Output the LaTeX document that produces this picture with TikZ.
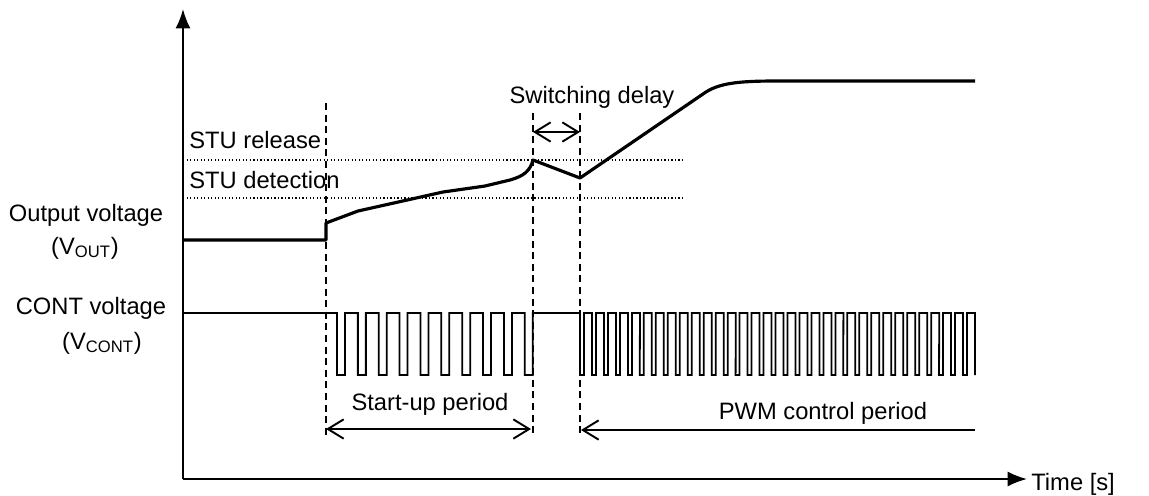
\documentclass[tikz,border=0pt]{standalone}
\usepackage{fontspec}
\setmainfont{Liberation Sans}
\usepackage{tikz}
\usetikzlibrary{arrows.meta}

\begin{document}
\begin{tikzpicture}[x=0.02cm,y=-0.02cm]
            \tikzset{lbl/.style = {inner sep=0pt, font=\fontsize{13.5}{16}\selectfont}}
            \tikzset{axis/.style = {line width=1.1pt, -{Latex[length=11pt,width=8.5pt]}}}
            \tikzset{vout/.style = {line width=1.8pt, line join=round}}
            \tikzset{cont/.style = {line width=1pt}}
            \tikzset{marker/.style = {line width=0.8pt, dash pattern=on 4pt off 2.6pt}}
            \tikzset{level/.style = {line width=0.6pt, dash pattern=on 0.7pt off 1.3pt}}
            \tikzset{span/.style = {line width=1.1pt, {Straight Barb[length=9pt,width=11pt]}-{Straight Barb[length=9pt,width=11pt]}}}
            \useasboundingbox (0,0) rectangle (1149,495);
            % axes
            \coordinate (origin) at (183,479);
            \coordinate (ytop) at (183,9);
            \coordinate (xend) at (1027,479);
            \draw[axis] (origin) to (ytop);
            \draw[axis] (origin) to (xend);
            % labels
            \node[lbl] (vout) at (86,215) {Output voltage};
            \node[lbl] (vout-sym) at (85,248) {(V\textsubscript{OUT})};
            \node[lbl] (vcont) at (91,308) {CONT voltage};
            \node[lbl] (vcont-sym) at (102,343) {(V\textsubscript{CONT})};
            \node[lbl, anchor=west] (release) at (189,140) {STU release};
            \node[lbl, anchor=west] (detection) at (189,180) {STU detection};
            \node[lbl] (delay) at (592,97) {Switching delay};
            \node[lbl] (startup) at (430,404) {Start-up period};
            \node[lbl] (pwm) at (823,413) {PWM control period};
            \node[lbl, anchor=west] (time) at (1031,484) {Time [s]};
            % thresholds
            \draw[level] (183,160) -- (685,160);
            \draw[level] (183,198) -- (685,198);
            % markers
            \draw[marker] (326,103) -- (326,437);
            \draw[marker] (533,113) -- (533,437);
            \draw[marker] (580,113) -- (580,437);
            % output voltage
            \draw[vout] (183,240) -- (326,240) -- (326,223) -- (358,211) -- (443,192)
                -- (485,186) -- (510,180) .. controls (524,176) and (530,171) .. (533,160)
                -- (580,178) -- (703,94) .. controls (718,83) and (738,81) .. (777,81) -- (975,81);
            % cont voltage
            \draw[cont] (183,313) \foreach \k in {0,...,9} {
                -- ({337+20.87*\k},313) -- ({337+20.87*\k},375)
                -- ({345+20.87*\k},375) -- ({345+20.87*\k},313) }
                -- (580,313) \foreach \k in {0,...,32} {
                -- ({580+11.97*\k},375) -- ({584+11.97*\k},375)
                -- ({584+11.97*\k},313) -- ({592+11.97*\k},313) }
                -- (975,375);
            % periods
            \coordinate (delay-a) at (533,132);
            \coordinate (delay-b) at (580,132);
            \coordinate (startup-a) at (326,429);
            \coordinate (startup-b) at (531,429);
            \coordinate (pwm-a) at (581,430);
            \coordinate (pwm-b) at (975,430);
            \draw[span] (delay-a) to (delay-b);
            \draw[span] (startup-a) to (startup-b);
            \draw[span, {Straight Barb[length=9pt,width=11pt]}-] (pwm-a) to (pwm-b);
        \end{tikzpicture}
\end{document}
